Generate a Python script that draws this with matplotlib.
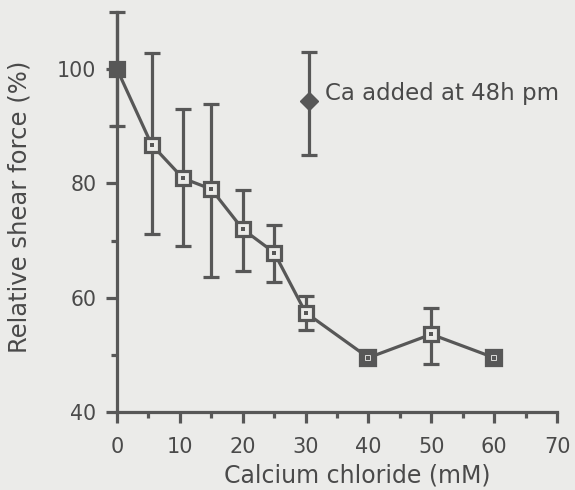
import matplotlib
matplotlib.use("Agg")
import matplotlib.pyplot as plt
from matplotlib.ticker import MultipleLocator, FixedLocator

# ---- data ----
conc = [0, 5.5, 10.5, 15, 20, 25, 30, 40, 50, 60]            # mM CaCl2
force = [100, 86.8, 80.9, 79.0, 72.0, 67.9, 57.4, 49.5, 53.6, 49.5]  # %
err_hi = [110, 102.8, 93.0, 93.9, 78.8, 72.8, 60.3, 49.5, 58.2, 49.5]
err_lo = [90, 71.2, 69.0, 63.7, 64.7, 62.8, 54.4, 49.5, 48.4, 49.5]

ca_x = [30.6]
ca_y = [94.4]
ca_hi = [103.0]
ca_lo = [85.0]
ca_label = "Ca added at 48h pm"

xticks = [0, 10, 20, 30, 40, 50, 60, 70]
yticks = [40, 60, 80, 100]
xlabel = "Calcium chloride (mM)"
ylabel = "Relative shear force (%)"

# ---- style ----
bg = "#ebebe9"
ink = "#575757"
txt = "#4a4a4a"
font = "DejaVu Sans"
lw = 2.3

fig = plt.figure(figsize=(5.75, 4.9), dpi=100, facecolor=bg)
W, H = 575, 490
ax = fig.add_axes([117 / W, (H - 412) / H, 440 / W, (412 - 12) / H])
ax.set_facecolor(bg)
ax.set_xlim(0, 70)
ax.set_ylim(40, 110)

yerr = [[f - l for f, l in zip(force, err_lo)], [h - f for f, h in zip(force, err_hi)]]
ax.errorbar(conc, force, yerr=yerr, fmt="none", ecolor=ink, elinewidth=lw,
            capsize=5.5, capthick=lw, clip_on=False, zorder=2)
ax.plot(conc, force, "-", color=ink, lw=lw, zorder=3, clip_on=False)

# markers: hollow squares with a centre dot; first one solid, 40 & 60 heavy
edge_w = [lw, lw, lw, lw, lw, lw, lw, 4.5, lw, 4.5]
for i, (x, y) in enumerate(zip(conc, force)):
    if i == 0:
        ax.plot(x, y, "s", ms=10.5, mfc=ink, mec=ink, mew=lw, zorder=4, clip_on=False)
    else:
        ax.plot(x, y, "s", ms=9.5 if edge_w[i] == lw else 9.0, mfc=bg, mec=ink,
                mew=edge_w[i], zorder=4, clip_on=False)
        ax.plot(x, y, "s", ms=2.2, mfc=ink, mec=ink, mew=0, zorder=5, clip_on=False)

# "Ca added" marker
ca_err = [[y - l for y, l in zip(ca_y, ca_lo)], [h - y for y, h in zip(ca_y, ca_hi)]]
ax.errorbar(ca_x, ca_y, yerr=ca_err, fmt="D", ms=9, mfc=ink, mec=ink,
            ecolor=ink, elinewidth=lw, capsize=5.5, capthick=lw, zorder=4)
fig.text(325 / W, 1 - 100 / H, ca_label, fontsize=16.5, family=font, color=txt,
         ha="left", va="baseline")

# axes styling
for s in ("top", "right"):
    ax.spines[s].set_visible(False)
for s in ("left", "bottom"):
    ax.spines[s].set_color(ink)
    ax.spines[s].set_linewidth(lw)

ax.xaxis.set_major_locator(FixedLocator(xticks))
ax.xaxis.set_minor_locator(MultipleLocator(5))
ax.yaxis.set_major_locator(FixedLocator(yticks))
ax.yaxis.set_minor_locator(FixedLocator([50, 70, 90]))
ax.set_xticklabels([str(v) for v in xticks])
ax.set_yticklabels([str(v) for v in yticks])

ax.tick_params(which="major", direction="out", length=7.8, width=lw, color=ink,
               labelcolor=txt)
ax.tick_params(which="minor", direction="out", length=4, width=lw, color=ink)
ax.tick_params(axis="x", which="major", pad=10, labelsize=15)
ax.tick_params(axis="y", which="major", pad=7, labelsize=14.8)
for lab in ax.get_xticklabels() + ax.get_yticklabels():
    lab.set_family(font)

fig.text(27 / W, 1 - 207 / H, ylabel, rotation=90, rotation_mode="anchor",
         ha="center", va="baseline", fontsize=17.5, family=font, color=txt)
fig.text(357 / W, 1 - 482 / H, xlabel, ha="center", va="baseline",
         fontsize=17, family=font, color=txt)

fig.savefig("out.png", dpi=100, facecolor=bg)
